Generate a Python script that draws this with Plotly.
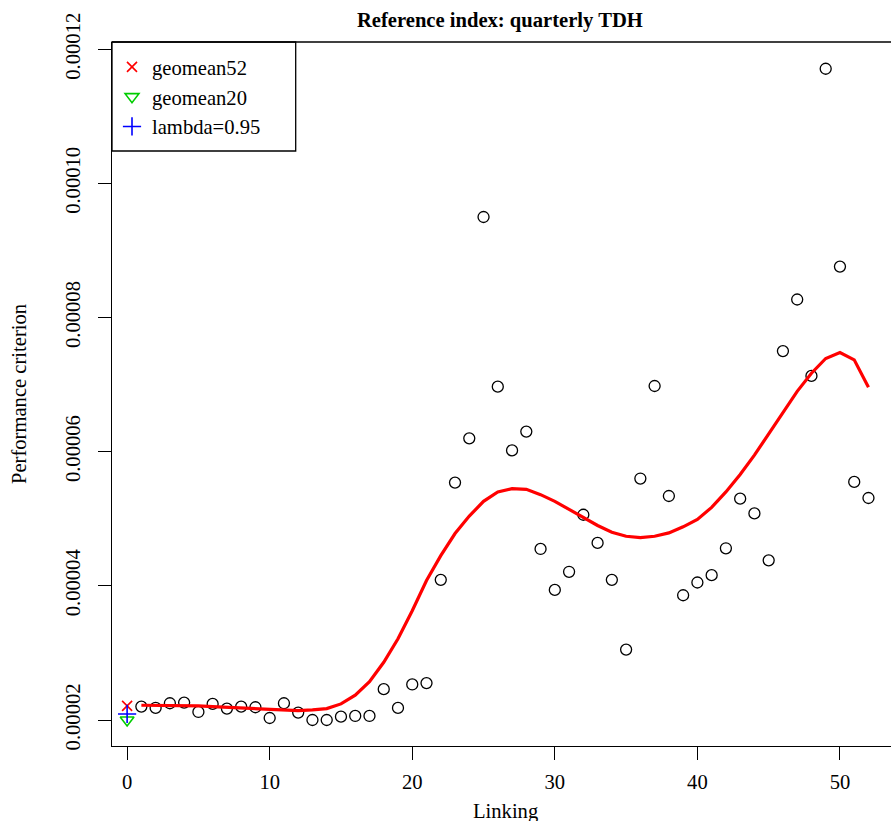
import plotly.graph_objects as go

# ---- data (values in units of 1e-5) ----
linking = list(range(1, 53))
criterion_e5 = [2.20, 2.18, 2.25, 2.26, 2.12, 2.24, 2.17, 2.20, 2.19, 2.03,
                2.25, 2.11, 2.00, 2.00, 2.05, 2.06, 2.06, 2.46, 2.18, 2.53,
                2.55, 4.09, 5.54, 6.20, 9.50, 6.97, 6.02, 6.30, 4.55, 3.94,
                4.21, 5.06, 4.64, 4.09, 3.05, 5.60, 6.98, 5.34, 3.86, 4.05,
                4.16, 4.56, 5.30, 5.08, 4.38, 7.50, 8.27, 7.13, 11.71, 8.76,
                5.55, 5.31]
smooth_e5 = [2.22, 2.22, 2.22, 2.21, 2.21, 2.20, 2.19, 2.18, 2.17, 2.15,
             2.14, 2.14, 2.15, 2.17, 2.24, 2.37, 2.57, 2.86, 3.21, 3.63,
             4.08, 4.45, 4.78, 5.04, 5.26, 5.40, 5.45, 5.44, 5.36, 5.26,
             5.14, 5.02, 4.90, 4.80, 4.74, 4.72, 4.74, 4.79, 4.88, 4.99,
             5.17, 5.40, 5.66, 5.95, 6.26, 6.58, 6.90, 7.17, 7.39, 7.48,
             7.37, 6.96]
ref_names = ["geomean52", "geomean20", "lambda=0.95"]
ref_x = [0, 0, 0]
ref_e5 = [2.21, 2.00, 2.09]
ref_colors = ["#FF0000", "#00CD00", "#0000FF"]
ref_symbols = ["x-thin-open", "triangle-down-open", "cross-thin-open"]
ref_sizes = [10, 12, 13]

y_tickvals = [2e-5, 4e-5, 6e-5, 8e-5, 10e-5, 12e-5]
y_ticktext = ["0.00002", "0.00004", "0.00006", "0.00008", "0.00010", "0.00012"]
x_tickvals = [0, 10, 20, 30, 40, 50]

criterion = [v * 1e-5 for v in criterion_e5]
smooth = [v * 1e-5 for v in smooth_e5]
ref_vals = [v * 1e-5 for v in ref_e5]

FONT = "Liberation Serif, Times New Roman, serif"
FS = 20.6
PW, PH, L, T = 779, 704, 112, 42

fig = go.Figure()
fig.add_trace(go.Scatter(
    x=linking, y=criterion, mode="markers", showlegend=False,
    marker=dict(symbol="circle-open", size=11, color="black",
                line=dict(color="black", width=1.3))))
fig.add_trace(go.Scatter(
    x=linking, y=smooth, mode="lines", showlegend=False,
    line=dict(color="#FF0000", width=3.2)))
for name, xv, yv, c, s, sz in zip(ref_names, ref_x, ref_vals, ref_colors, ref_symbols, ref_sizes):
    fig.add_trace(go.Scatter(
        x=[xv], y=[yv], mode="markers", name=name,
        marker=dict(symbol=s, size=sz, color=c, line=dict(color=c, width=1.6))))

fig.update_layout(
    width=891, height=821,
    margin=dict(l=L, r=0, t=T, b=75),
    paper_bgcolor="white", plot_bgcolor="white",
    font=dict(family=FONT, size=FS, color="black"),
    showlegend=True,
    legend=dict(x=0, y=1 - 5 / PH, xanchor="left", yanchor="top",
                bgcolor="rgba(0,0,0,0)", borderwidth=0,
                font=dict(family=FONT, size=FS, color="black"),
                tracegroupgap=0, itemsizing="trace"),
    xaxis=dict(range=[-1.06, 53.58], tickvals=x_tickvals,
               showgrid=False, zeroline=False, showline=True, linecolor="black",
               linewidth=1.3, ticks="outside", ticklen=13, tickwidth=1.3,
               tickcolor="black", tickfont=dict(family=FONT, size=FS),
               ticklabelstandoff=4),
    yaxis=dict(range=[1.6123e-5, 12.109e-5], tickvals=y_tickvals, ticktext=y_ticktext,
               tickangle=-90,
               showgrid=False, zeroline=False, showline=True, linecolor="black",
               linewidth=1.3, ticks="outside", ticklen=13, tickwidth=1.3,
               tickcolor="black", tickfont=dict(family=FONT, size=FS),
               ticklabelstandoff=10),
    shapes=[
        dict(type="line", xref="paper", yref="paper", x0=0, x1=1, y0=1, y1=1,
             line=dict(color="black", width=1.3)),
        dict(type="rect", xref="paper", yref="paper", layer="below",
             x0=0, x1=(295.7 - L) / PW, y0=1 - (151 - T) / PH, y1=1,
             fillcolor="white", line=dict(color="black", width=1.3)),
    ],
    annotations=[
        dict(text="<b>Reference index: quarterly TDH</b>", xref="paper", yref="paper",
             x=(500 - L) / PW, y=1 + 22 / PH, xanchor="center", yanchor="middle",
             showarrow=False, font=dict(family=FONT, size=FS)),
        dict(text="Linking", xref="paper", yref="paper",
             x=(505 - L) / PW, y=-(811 - 746) / PH, xanchor="center", yanchor="middle",
             showarrow=False, font=dict(family=FONT, size=FS)),
        dict(text="Performance criterion", xref="paper", yref="paper", textangle=-90,
             x=(19 - L) / PW, y=0.5, xanchor="center", yanchor="middle",
             showarrow=False, font=dict(family=FONT, size=FS)),
    ],
)

fig.write_html("out.html")
